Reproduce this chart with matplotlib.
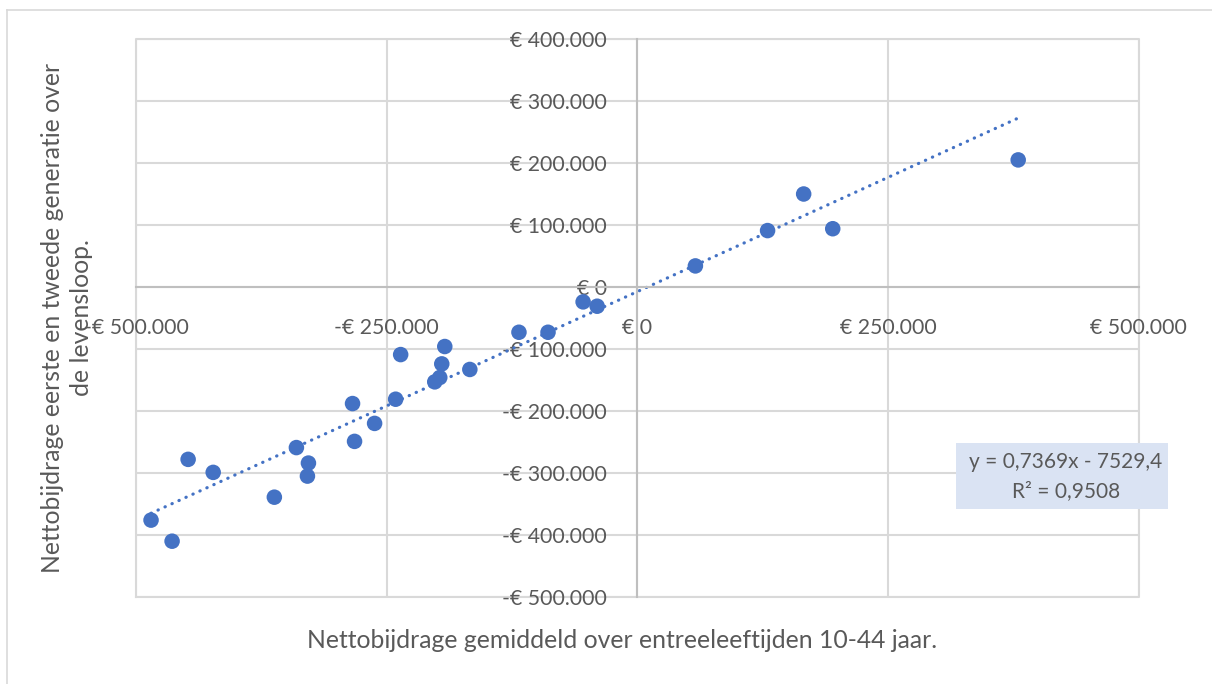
import matplotlib
matplotlib.use("Agg")
import matplotlib.pyplot as plt
from matplotlib.ticker import FuncFormatter, MultipleLocator
from matplotlib.lines import Line2D
from matplotlib.patches import Rectangle

# ---- data (euros) ----
x_vals = [-485000, -464000, -448000, -423000, -362000, -340000, -328000, -329000,
          -284000, -282000, -262000, -241000, -236000, -202000, -197000, -195000,
          -192000, -167000, -118000, -89000, -54000, -40000, 58000, 130000,
          166000, 195000, 380000]
y_vals = [-376000, -410000, -278000, -299000, -339000, -259000, -284000, -305000,
          -188000, -249000, -220000, -181000, -109000, -153000, -146000, -124000,
          -96000, -133000, -73000, -73000, -24000, -31000, 34000, 91000,
          150000, 94000, 205000]
trend_slope = 0.7369
trend_intercept = -7529.4
trend_label = "y = 0,7369x - 7529,4\nR² = 0,9508"
x_label = "Nettobijdrage gemiddeld over entreeleeftijden 10-44 jaar."
y_label = "Nettobijdrage eerste en tweede generatie over\nde levensloop."

W, H = 1212, 684
BLUE = "#4472C4"
GRID = "#D9D9D9"
AXIS = "#BFBFBF"
TXT = "#595959"
FONT = ["Lato", "DejaVu Sans"]
plt.rcParams["font.family"] = FONT

fig = plt.figure(figsize=(W / 100, H / 100), dpi=100)

def fx(px):
    return px / W

def fy(py):
    return 1 - py / H

left, right, top, bottom = 136, 1138.5, 39, 597
ax = fig.add_axes([fx(left), fy(bottom), (right - left) / W, (bottom - top) / H])
ax.set_xlim(-500000, 500000)
ax.set_ylim(-500000, 400000)
ax.xaxis.set_major_locator(MultipleLocator(250000))
ax.yaxis.set_major_locator(MultipleLocator(100000))

def euro(v, pos=None):
    v = int(round(v))
    s = f"{abs(v):,}".replace(",", ".")
    return ("-€ " if v < 0 else "€ ") + s

ax.xaxis.set_major_formatter(FuncFormatter(euro))
ax.yaxis.set_major_formatter(FuncFormatter(euro))

ax.grid(True, color=GRID, linewidth=1.5, zorder=0)
for s in ["top", "right"]:
    ax.spines[s].set_visible(False)
ax.spines["left"].set_position(("data", 0))
ax.spines["bottom"].set_position(("data", 0))
ax.spines["left"].set_color(AXIS)
ax.spines["bottom"].set_color(AXIS)
ax.spines["left"].set_linewidth(1.5)
ax.spines["bottom"].set_linewidth(1.5)
ax.tick_params(axis="both", length=0, labelsize=15.3, labelcolor=TXT)
ax.tick_params(axis="x", pad=22)
ax.tick_params(axis="y", pad=22)
ax.set_axisbelow(True)

# border lines of plot area (outer gridlines)
ax.plot([0, 1, 1, 0, 0], [0, 0, 1, 1, 0], transform=ax.transAxes, color=GRID,
        linewidth=1.5, clip_on=False, zorder=0)

# trendline
tx = [min(x_vals), max(x_vals)]
ty = [trend_slope * v + trend_intercept for v in tx]
ax.plot(tx, ty, color=BLUE, linewidth=2.3, linestyle=(0, (0.1, 2.3)),
        dash_capstyle="round", zorder=2)

ax.scatter(x_vals, y_vals, s=125, color=BLUE, edgecolors="none", zorder=3)

# trend label box
fig.patches.append(Rectangle((fx(956), fy(509)), fx(1168) - fx(956), fy(443) - fy(509),
                             transform=fig.transFigure, facecolor="#DAE3F3",
                             edgecolor="none", zorder=5))
l1, l2 = trend_label.split("\n")
fig.text(fx(1066), fy(462), l1, ha="center", va="center", fontsize=15, color=TXT, zorder=6)
fig.text(fx(1066), fy(491), l2, ha="center", va="center", fontsize=15, color=TXT, zorder=6)

# axis titles
fig.text(fx(622), fy(641), x_label, ha="center", va="center", fontsize=17.8, color=TXT)
fig.text(fx(67), fy(318), y_label, ha="center", va="center", fontsize=17.8, color=TXT,
         rotation=90, linespacing=1.35, multialignment="center")

# chart border (left and top visible)
fig.lines.append(Line2D([fx(7), fx(7)], [fy(10), 0], transform=fig.transFigure,
                        color=GRID, linewidth=1.2))
fig.lines.append(Line2D([fx(7), 1], [fy(10), fy(10)], transform=fig.transFigure,
                        color=GRID, linewidth=1.2))

fig.savefig("out.png", dpi=100)
